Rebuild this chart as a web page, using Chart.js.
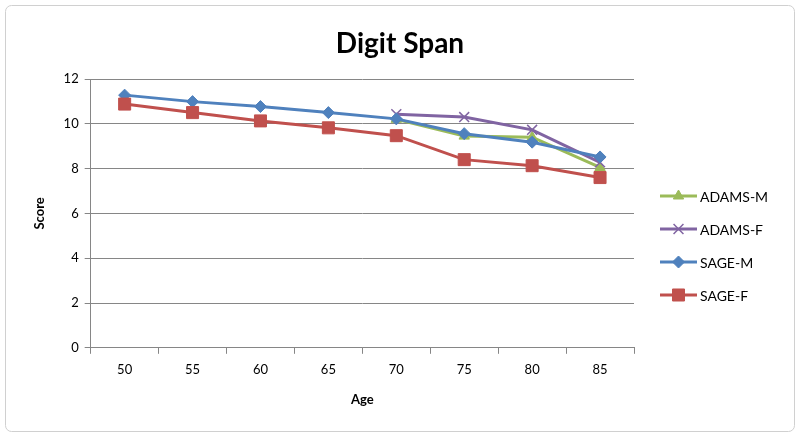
<!DOCTYPE html>
<html>
<head>
<meta charset="utf-8">
<script src="https://cdn.jsdelivr.net/npm/chart.js@4"></script>
<style>
  html, body { margin: 0; padding: 0; background: #fff; }
  #wrap { width: 800px; height: 438px; }
</style>
</head>
<body>
<div id="wrap"><canvas id="chart" width="800" height="438"></canvas></div>
<script>
const ages = ['50', '55', '60', '65', '70', '75', '80', '85'];
const seriesNames = ['ADAMS-M', 'ADAMS-F', 'SAGE-M', 'SAGE-F'];
const adamsM = [null, null, null, null, 10.2, 9.45, 9.4, 8.05];
const adamsF = [null, null, null, null, 10.43, 10.3, 9.73, 8.28];
const sageM = [11.28, 10.99, 10.77, 10.5, 10.22, 9.56, 9.18, 8.52];
const sageF = [10.88, 10.5, 10.13, 9.82, 9.47, 8.4, 8.13, 7.6];
const yTicks = [0, 2, 4, 6, 8, 10, 12];
const chartTitle = 'Digit Span';

const fontFamily = 'Lato, "Liberation Sans", sans-serif';

function makeSet(label, data, color, style, radius, order) {
    return {
        label: label,
        data: data,
        borderColor: color,
        backgroundColor: color,
        borderWidth: 3,
        pointStyle: style,
        pointRadius: radius,
        pointHoverRadius: radius,
        pointBorderWidth: style === 'crossRot' ? 1.5 : 1,
        pointBorderColor: color,
        pointBackgroundColor: color,
        tension: 0,
        spanGaps: false,
        order: order
    };
}

const datasets = [
    makeSet(seriesNames[0], adamsM, '#9bbb59', 'triangle', 6, 4),
    makeSet(seriesNames[1], adamsF, '#8064a2', 'crossRot', 7, 3),
    makeSet(seriesNames[2], sageM, '#4f81bd', 'rectRot', 6, 2),
    makeSet(seriesNames[3], sageF, '#c0504d', 'rect', 8.5, 1)
];

// frame around the whole chart + centred title
const framePlugin = {
    id: 'frame',
    beforeDraw(chart) {
        const ctx = chart.ctx;
        ctx.save();
        ctx.fillStyle = '#fff';
        ctx.fillRect(0, 0, chart.width, chart.height);
        ctx.strokeStyle = '#d0d0d0';
        ctx.lineWidth = 1;
        ctx.beginPath();
        ctx.roundRect(5.5, 5.5, 789, 426, 6);
        ctx.stroke();
        ctx.fillStyle = '#000';
        ctx.font = 'bold 28px ' + fontFamily;
        ctx.textAlign = 'center';
        ctx.textBaseline = 'middle';
        ctx.fillText(chartTitle, 400, 44);
        ctx.restore();
    }
};

// legend drawn as line + marker, like the office style
const legendPlugin = {
    id: 'lineLegend',
    afterDraw(chart) {
        const ctx = chart.ctx;
        const rows = [196, 229, 262, 295];
        ctx.save();
        chart.data.datasets.forEach((ds, i) => {
            const y = rows[i];
            ctx.strokeStyle = ds.borderColor;
            ctx.lineWidth = 3;
            ctx.beginPath();
            ctx.moveTo(660, y);
            ctx.lineTo(697, y);
            ctx.stroke();
            ctx.fillStyle = ds.pointBackgroundColor;
            ctx.strokeStyle = ds.pointBorderColor;
            ctx.lineWidth = ds.pointBorderWidth;
            Chart.helpers.drawPoint(ctx, {
                pointStyle: ds.pointStyle,
                radius: ds.pointRadius,
                borderWidth: ds.pointBorderWidth,
                rotation: 0
            }, 678.5, y);
            ctx.fillStyle = '#000';
            ctx.font = '14px ' + fontFamily;
            ctx.textBaseline = 'middle';
            ctx.textAlign = 'left';
            ctx.fillText(ds.label, 700, y + 1);
        });
        ctx.restore();
    }
};

new Chart(document.getElementById('chart'), {
    type: 'line',
    data: { labels: ages, datasets: datasets },
    plugins: [framePlugin, legendPlugin],
    options: {
        responsive: false,
        animation: false,
        layout: { padding: { top: 79, left: 28, right: 166, bottom: 26 } },
        plugins: {
            legend: { display: false },
            tooltip: { enabled: false },
            title: { display: false }
        },
        scales: {
            x: {
                offset: true,
                grid: {
                    display: true,
                    offset: true,
                    drawOnChartArea: false,
                    drawTicks: true,
                    tickLength: 6,
                    color: '#868686'
                },
                border: { color: '#868686', width: 1 },
                ticks: { color: '#000', font: { family: fontFamily, size: 13 }, padding: 8 },
                title: {
                    display: true,
                    text: 'Age',
                    color: '#000',
                    font: { family: fontFamily, size: 13, weight: 'bold' },
                    padding: { top: 7 }
                }
            },
            y: {
                min: 0,
                max: 12,
                afterBuildTicks(scale) {
                    scale.ticks = yTicks.map(v => ({ value: v }));
                },
                grid: { color: '#868686', tickLength: 6 },
                border: { color: '#868686', width: 1 },
                ticks: { color: '#000', font: { family: fontFamily, size: 13 }, padding: 6 },
                title: {
                    display: true,
                    text: 'Score',
                    color: '#000',
                    font: { family: fontFamily, size: 13, weight: 'bold' },
                    padding: { bottom: 10 }
                }
            }
        }
    }
});
</script>
</body>
</html>
